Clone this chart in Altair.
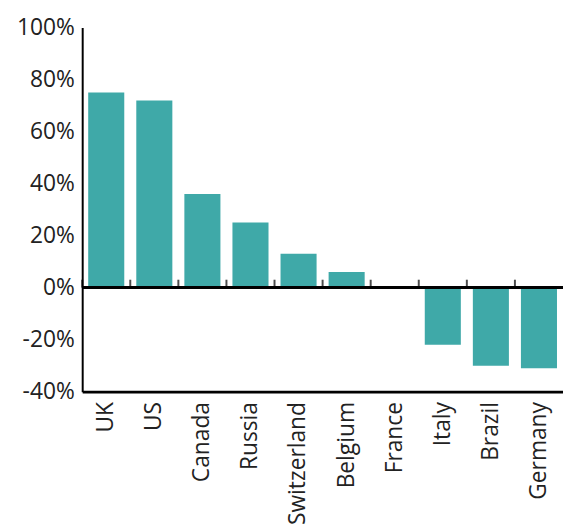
import altair as alt
import pandas as pd

countries = ["UK", "US", "Canada", "Russia", "Switzerland", "Belgium",
             "France", "Italy", "Brazil", "Germany"]
changes = [0.75, 0.72, 0.36, 0.25, 0.13, 0.06, 0.0, -0.22, -0.30, -0.31]
y_ticks = [-0.4, -0.2, 0.0, 0.2, 0.4, 0.6, 0.8, 1.0]

df = pd.DataFrame({"country": countries, "change": changes})

H = 368
W = 486
STEP = W / len(countries)
y_min, y_max = -0.4, 1.0

x_scale = alt.Scale(domain=countries, paddingInner=0.25, paddingOuter=0.125)
y_scale = alt.Scale(domain=[y_min, y_max], nice=False)
y_axis = alt.Axis(values=y_ticks, ticks=False,
                  labelExpr="replace(format(datum.value, '.0%'), '\u2212', '-')",
                  labelPadding=8, domainColor="#000",
                  domainWidth=2, grid=False)
x_enc = alt.X("country:N", sort=countries, scale=x_scale, title=None,
              axis=alt.Axis(orient="bottom", ticks=False, labelAngle=-90,
                            labelPadding=10, domainColor="#000",
                            domainWidth=3, grid=False))

bars = alt.Chart(df).mark_bar(color="#3FA9A8").encode(
    x=x_enc,
    y=alt.Y("change:Q", scale=y_scale, title=None, axis=y_axis),
)

zero_line = alt.Chart(df).mark_rule(color="#000", strokeWidth=3).encode(
    y=alt.datum(0)
)

ticks = alt.Chart(df).mark_tick(
    color="#000", orient="vertical", size=8, thickness=2,
    xOffset=-STEP / 2, yOffset=-4
).encode(
    x=x_enc,
    y=alt.datum(0),
)

chart = alt.layer(bars, zero_line, ticks).properties(
    width=W, height=H,
    autosize=alt.AutoSizeParams(type="none"),
    padding={"left": 75, "top": 17, "right": 0, "bottom": 131},
).configure_view(stroke=None).configure_axis(
    labelFont="Open Sans", labelFontSize=23, labelColor="#222"
)

chart.save("out.html", embed_options={"renderer": "svg", "actions": False})
